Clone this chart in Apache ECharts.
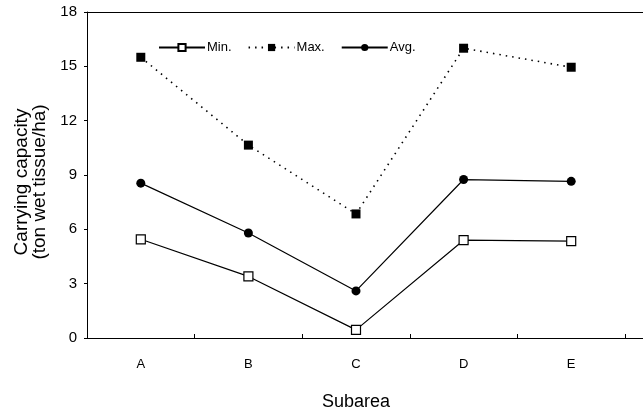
<!DOCTYPE html>
<html>
<head>
<meta charset="utf-8">
<script src="https://cdn.jsdelivr.net/npm/echarts@6/dist/echarts.min.js"></script>
<style>
html,body{margin:0;padding:0;background:#fff;}
#chart{width:643px;height:414px;}
</style>
</head>
<body>
<div id="chart"></div>
<script>
const categories = ['A', 'B', 'C', 'D', 'E'];
const minValues = [5.45, 3.4, 0.45, 5.4, 5.35];
const maxValues = [15.5, 10.65, 6.85, 16.0, 14.95];
const avgValues = [8.55, 5.8, 2.6, 8.75, 8.65];
const yTicks = { min: 0, max: 18, interval: 3 };

const font = '"Liberation Sans", Arial, Helvetica, sans-serif';
const chart = echarts.init(document.getElementById('chart'), null, { renderer: 'canvas' });

chart.setOption({
  animation: false,
  backgroundColor: '#fff',
  textStyle: { fontFamily: font, color: '#000' },
  grid: { left: 87, right: 18, top: 12, bottom: 76, containLabel: false, outerBoundsMode: 'none' },
  legend: {
    left: 153, top: 36,
    itemWidth: 46, itemHeight: 9, itemGap: 16,
    textStyle: { fontFamily: font, fontSize: 13, color: '#000', padding: [0, 0, 0, -3] },
    data: ['Min.', 'Max.', 'Avg.']
  },
  xAxis: [{
    type: 'category',
    data: categories,
    boundaryGap: true,
    position: 'bottom',
    axisLine: { lineStyle: { color: '#000', width: 1 } },
    axisTick: { show: true, inside: true, length: 4, lineStyle: { color: '#000' } },
    axisLabel: { color: '#000', fontSize: 13, margin: 20, fontFamily: font },
    name: 'Subarea',
    nameLocation: 'middle',
    nameGap: 55,
    nameTextStyle: { fontSize: 18, color: '#000', fontFamily: font }
  }, {
    type: 'category',
    data: categories,
    position: 'top',
    axisLine: { lineStyle: { color: '#000', width: 1 } },
    axisTick: { show: false },
    axisLabel: { show: false }
  }],
  yAxis: {
    type: 'value',
    min: yTicks.min, max: yTicks.max, interval: yTicks.interval,
    axisLine: { show: true, lineStyle: { color: '#000', width: 1 } },
    axisTick: { show: true, length: 3, lineStyle: { color: '#000' } },
    axisLabel: { color: '#000', fontSize: 15, margin: 10, fontFamily: font },
    splitLine: { show: false },
    name: 'Carrying capacity\n(ton wet tissue/ha)',
    nameLocation: 'middle',
    nameGap: 36,
    nameTextStyle: { fontSize: 19, color: '#000', fontFamily: font, lineHeight: 18, padding: [0, 14, 0, 0] }
  },
  series: [
    {
      name: 'Min.', type: 'line', data: minValues,
      symbol: 'rect', symbolSize: 9,
      itemStyle: { color: '#fff', borderColor: '#000', borderWidth: 1.2 },
      lineStyle: { color: '#000', width: 1.2, type: 'solid' }
    },
    {
      name: 'Max.', type: 'line', data: maxValues,
      symbol: 'rect', symbolSize: 9,
      itemStyle: { color: '#000', borderColor: '#000', borderWidth: 0 },
      lineStyle: { color: '#000', width: 1.6, type: [1.5, 5] }
    },
    {
      name: 'Avg.', type: 'line', data: avgValues,
      symbol: 'circle', symbolSize: 9,
      itemStyle: { color: '#000', borderColor: '#000', borderWidth: 0 },
      lineStyle: { color: '#000', width: 1.2, type: 'solid' }
    }
  ]
});

// extend the frame's top and bottom rules to the page edge, as in the reference
const yTop = Math.round(chart.convertToPixel({ yAxisIndex: 0 }, yTicks.max)) + 0.5;
const yBot = Math.round(chart.convertToPixel({ yAxisIndex: 0 }, yTicks.min)) + 0.5;
const rect = chart.getModel().getComponent('grid', 0).coordinateSystem.getRect();
const xr = rect.x + rect.width;
chart.setOption({
  graphic: [
    { type: 'line', silent: true, shape: { x1: xr, y1: yTop, x2: 643, y2: yTop }, style: { stroke: '#000', lineWidth: 1 } },
    { type: 'line', silent: true, shape: { x1: xr, y1: yBot, x2: 643, y2: yBot }, style: { stroke: '#000', lineWidth: 1 } }
  ]
});
</script>
</body>
</html>
